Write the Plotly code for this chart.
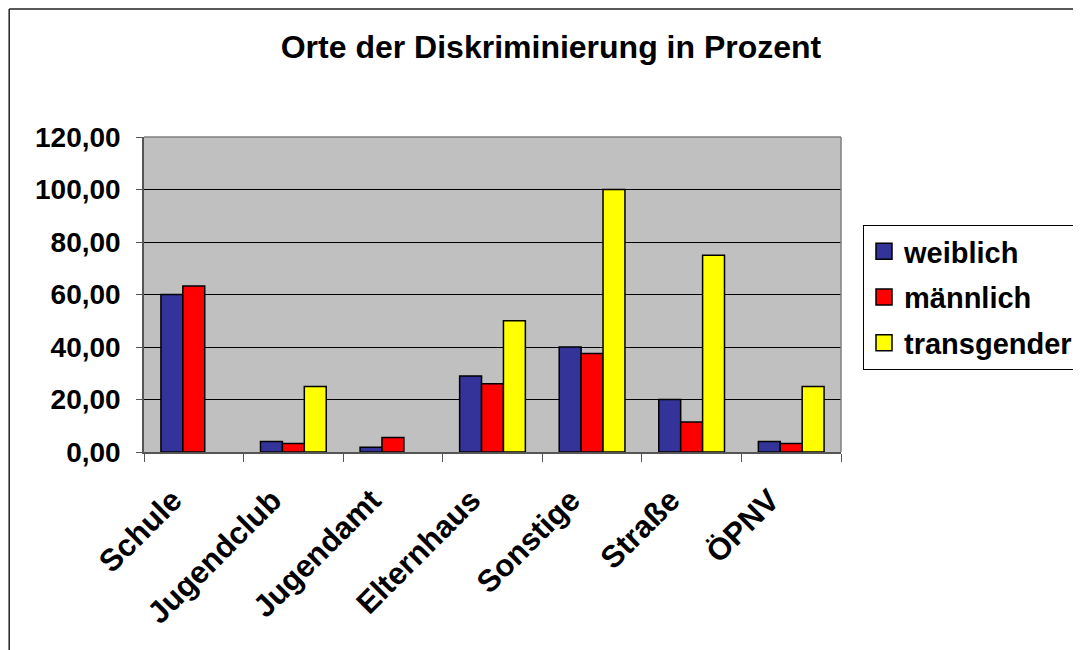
import plotly.graph_objects as go

orte = ['Schule', 'Jugendclub', 'Jugendamt', 'Elternhaus', 'Sonstige', 'Straße', 'ÖPNV']
weiblich = [60.0, 4.0, 1.8, 29.0, 40.0, 20.0, 4.0]
maennlich = [63.2, 3.2, 5.5, 26.0, 37.5, 11.4, 3.2]
transgender = [None, 25.0, None, 50.0, 100.0, 75.0, 25.0]

serien = [('weiblich', weiblich, '#333399'),
          ('männlich', maennlich, '#ff0000'),
          ('transgender', transgender, '#ffff00')]

schrift = 'Liberation Sans, Arial, sans-serif'

fig = go.Figure()
for name, werte, farbe in serien:
    fig.add_trace(go.Bar(x=orte, y=werte, name=name, showlegend=False,
                         marker=dict(color=farbe, line=dict(color='black', width=1.5))))
# größere Legendensymbole über leere Marker-Spuren
for name, werte, farbe in serien:
    fig.add_trace(go.Scatter(x=[None], y=[None], mode='markers', name=name, legendgroup=name,
                             marker=dict(symbol='square', size=20, color=farbe,
                                         line=dict(color='black', width=1.5))))

# die Seite wird mit 8px Rand angezeigt, daher die Ränder hier um 8px verschoben
rand_x = (9 - 144) / 698
rand_y = (452 - 9) / 315

fig.update_layout(
    width=1081, height=650,
    margin=dict(l=136, r=247, t=129, b=206),
    paper_bgcolor='white', plot_bgcolor='#c0c0c0',
    separators=',.',
    barmode='group', bargap=0.34, bargroupgap=0,
    font=dict(family=schrift, size=28, color='black', weight='bold'),
    title=dict(text='Orte der Diskriminierung in Prozent', x=(551 - 8) / 1081, xanchor='center',
               y=1 - 39 / 650, yanchor='middle', font=dict(size=32, weight='bold')),
    showlegend=True,
    legend=dict(x=(863 - 144) / 698, y=(452 - 225) / 315, xanchor='left', yanchor='top',
                bordercolor='black', borderwidth=1, bgcolor='white',
                font=dict(size=29, weight='bold'), tracegroupgap=5,
                itemwidth=30, itemsizing='trace'),
    xaxis=dict(tickangle=-45, tickson='boundaries', ticks='outside', ticklen=8,
               tickcolor='#555555', showline=True, linecolor='#555555', linewidth=1.5,
               showgrid=False, tickfont=dict(size=31, weight='bold'),
               ticklabelstandoff=16, ticklabelshift=-21),
    yaxis=dict(range=[0, 120], dtick=20, tickformat='.2f', ticks='outside', ticklen=6,
               tickcolor='#555555', showline=True, linecolor='#555555', linewidth=1.5,
               showgrid=True, gridcolor='black', gridwidth=1, zeroline=False,
               tickfont=dict(size=28, weight='bold'), ticklabelstandoff=10),
    shapes=[
        dict(type='line', xref='paper', yref='paper', x0=0, x1=1, y0=1, y1=1,
             line=dict(color='#808080', width=1.5)),
        dict(type='line', xref='paper', yref='paper', x0=1, x1=1, y0=0, y1=1,
             line=dict(color='#808080', width=1.5)),
        dict(type='line', xref='paper', yref='paper', x0=rand_x, x1=1.6,
             y0=rand_y, y1=rand_y, line=dict(color='#222222', width=1.5)),
        dict(type='line', xref='paper', yref='paper', x0=rand_x, x1=rand_x,
             y0=-0.7, y1=rand_y, line=dict(color='#222222', width=1.5)),
    ],
)

fig.write_html('out.html')
